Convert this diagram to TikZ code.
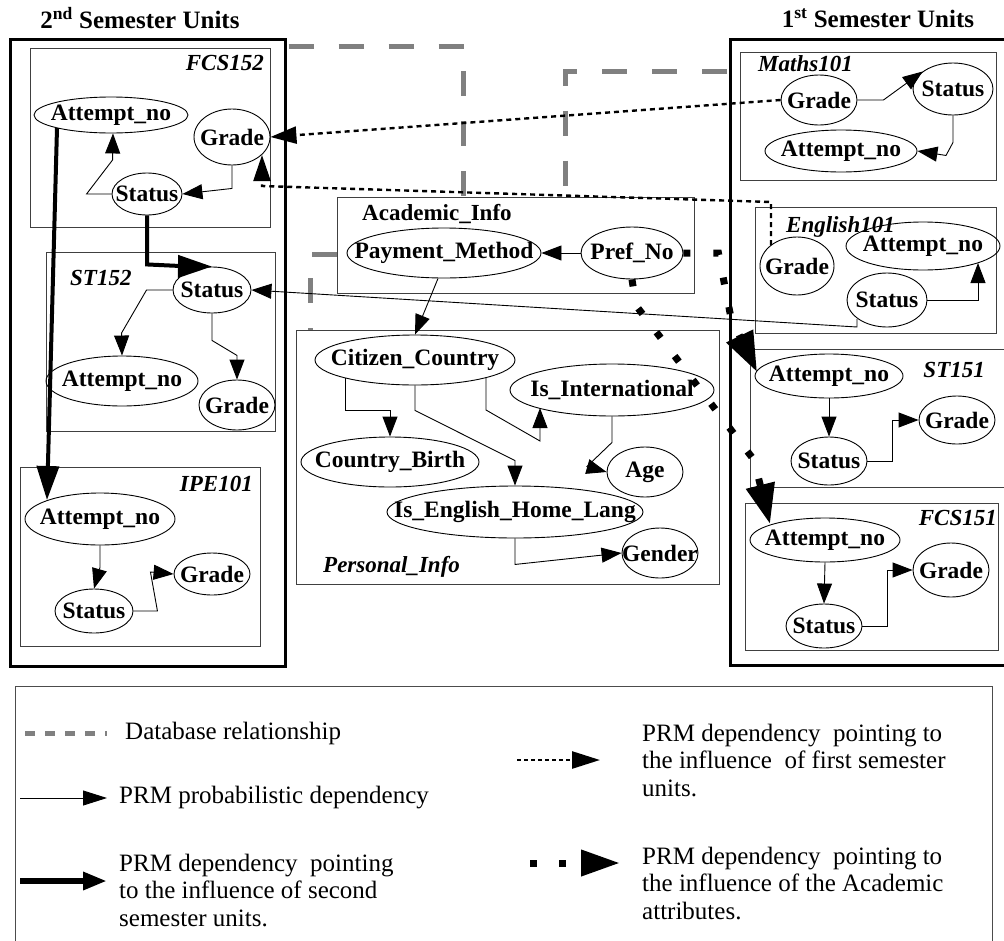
\documentclass[tikz,border=0pt]{standalone}
\usepackage{fontspec}
\setmainfont{Liberation Serif}
\usetikzlibrary{arrows.meta,shapes.geometric,calc,fit}

\begin{document}
\begin{tikzpicture}[x=1pt,y=-1pt,
  attr/.style={ellipse, draw, line width=0.9pt, inner sep=0pt,
    font=\bfseries\fontsize{23.5}{25}\selectfont,
    execute at begin node={\hbox to 0pt\bgroup\hss},
    execute at end node={\hss\egroup}},
  unitbox/.style={draw=black!75, line width=0.9pt, inner sep=0pt},
  semesterbox/.style={draw, line width=3pt, inner sep=0pt},
  unitname/.style={font=\bfseries\itshape\fontsize{23}{25}\selectfont, inner sep=0pt},
  classname/.style={font=\bfseries\fontsize{23}{25}\selectfont, inner sep=0pt},
  semtitle/.style={font=\bfseries\fontsize{25}{27}\selectfont, inner sep=0pt},
  dep/.style={line width=0.9pt, -{Triangle[length=20pt,width=15pt]}},
  seconddep/.style={line width=4pt, -{Triangle[length=34pt,width=22pt]}},
  firstdep/.style={line width=2.4pt, dash pattern=on 5pt off 4pt, -{Triangle[length=26pt,width=17pt]}},
  acaddep/.style={line width=7pt, dash pattern=on 7pt off 23pt, -{Triangle[length=40pt,width=28pt]}},
  dbrel/.style={draw=black!50, line width=5pt, dash pattern=on 25pt off 25pt},
  legtext/.style={font=\fontsize{25}{27.5}\selectfont, align=left, anchor=west, inner sep=0pt}
]
\useasboundingbox (0,0) rectangle (1004,940);

% ---------- titles ----------
\node[semtitle] (t2) at (140,18) {2\textsuperscript{nd} Semester Units};
\node[semtitle] (t1) at (878,18) {1\textsuperscript{st} Semester Units};

% ---------- semester frames ----------
\node[semesterbox, fit={(10,39) (285,666)}] (sem2) {};
\node[semesterbox, fit={(730,39) (1014,665)}] (sem1) {};

% ---------- FCS152 ----------
\node[unitbox, fit={(30,48) (270,227)}] (fcs152) {};
\node[unitname, anchor=east] (fcs152name) at (264,63) {FCS152};
\node[attr, minimum width=154pt, minimum height=36pt] (f2a) at (111,115) {Attempt\_no};
\node[attr, minimum width=76pt, minimum height=56pt] (f2g) at (232,137) {Grade};
\node[attr, minimum width=70pt, minimum height=42pt] (f2s) at (147,194) {Status};

% ---------- ST152 ----------
\node[unitbox, fit={(46,252) (275,431)}] (st152) {};
\node[unitname, anchor=west] (st152name) at (70,278) {ST152};
\node[attr, minimum width=78pt, minimum height=46pt] (s2s) at (212,290) {Status};
\node[attr, minimum width=152pt, minimum height=50pt] (s2a) at (122,381) {Attempt\_no};
\node[attr, minimum width=76pt, minimum height=50pt] (s2g) at (237,405) {Grade};

% ---------- IPE101 ----------
\node[unitbox, fit={(20,467) (260,646)}] (ipe101) {};
\node[unitname, anchor=east] (ipe101name) at (253,484) {IPE101};
\node[attr, minimum width=150pt, minimum height=52pt] (ia) at (100,519) {Attempt\_no};
\node[attr, minimum width=78pt, minimum height=44pt] (is) at (94,611) {Status};
\node[attr, minimum width=76pt, minimum height=42pt] (ig) at (212,574) {Grade};

% ---------- Academic_Info ----------
\node[unitbox, fit={(337,197) (694,293)}] (acad) {};
\node[classname, anchor=west] (acadname) at (362,214) {Academic\_Info};
\node[attr, minimum width=194pt, minimum height=50pt] (pm) at (444,253) {Payment\_Method};
\node[attr, minimum width=102pt, minimum height=52pt] (pn) at (632,253) {Pref\_No};

% ---------- Personal_Info ----------
\node[unitbox, fit={(296,330) (719,584)}] (pers) {};
\node[unitname, anchor=west] (persname) at (323,567) {Personal\_Info};
\node[attr, minimum width=200pt, minimum height=50pt] (cc) at (415,360) {Citizen\_Country};
\node[attr, minimum width=204pt, minimum height=52pt] (ii) at (612,390) {Is\_International};
\node[attr, minimum width=178pt, minimum height=50pt] (cb) at (390,462) {Country\_Birth};
\node[attr, minimum width=76pt, minimum height=50pt] (ag) at (645,472) {Age};
\node[attr, minimum width=256pt, minimum height=52pt] (ie) at (515,512) {Is\_English\_Home\_Lang};
\node[attr, minimum width=76pt, minimum height=50pt] (ge) at (660,553) {Gender};

% ---------- Maths101 ----------
\node[unitbox, fit={(740,52) (996,180)}] (maths) {};
\node[unitname, anchor=west] (mathsname) at (758,64) {Maths101};
\node[attr, minimum width=76pt, minimum height=50pt] (mg) at (819,100) {Grade};
\node[attr, minimum width=80pt, minimum height=52pt] (ms) at (953,89) {Status};
\node[attr, minimum width=152pt, minimum height=42pt] (ma) at (841,151) {Attempt\_no};

% ---------- English101 ----------
\node[unitbox, fit={(755,207) (996,333)}] (eng) {};
\node[unitname, anchor=west] (engname) at (786,227) {English101};
\node[attr, minimum width=74pt, minimum height=58pt] (eg) at (797,266) {Grade};
\node[attr, minimum width=154pt, minimum height=48pt] (ea) at (923,246) {Attempt\_no};
\node[attr, minimum width=80pt, minimum height=54pt] (es) at (887,300) {Status};

% ---------- ST151 ----------
\node[unitbox, fit={(750,349) (1014,487)}] (st151) {};
\node[unitname, anchor=east] (st151name) at (985,370) {ST151};
\node[attr, minimum width=148pt, minimum height=44pt] (ta) at (829,376) {Attempt\_no};
\node[attr, minimum width=76pt, minimum height=48pt] (ts) at (829,461) {Status};
\node[attr, minimum width=76pt, minimum height=48pt] (tg) at (957,420) {Grade};

% ---------- FCS151 ----------
\node[unitbox, fit={(745,503) (998,650)}] (fcs151) {};
\node[unitname, anchor=east] (fcs151name) at (997,518) {FCS151};
\node[attr, minimum width=150pt, minimum height=44pt] (fa) at (825,540) {Attempt\_no};
\node[attr, minimum width=76pt, minimum height=44pt] (fs) at (824,626) {Status};
\node[attr, minimum width=76pt, minimum height=54pt] (fg) at (951,570) {Grade};

% ---------- database relationships ----------
\draw[dbrel] ($(sem2.north east)+(2,9)$) -| ($(acad.north west)+(127,0)$);
\draw[dbrel] ($(sem1.north west)+(-2,34)$) -| ($(acad.north west)+(229,0)$);
\draw[dbrel] ($(acad.south west)+(0,-39)$) -| ($(pers.north west)+(15,0)$);

% ---------- probabilistic dependencies ----------
\draw[dep] (f2g.south) -- ++(0,23) -- (f2s.east);
\draw[dep] (f2s.west) -- ++(-25,0) -- ++(26,-34) -- ($(f2a.south)+(2,0)$);
\draw[dep] (s2s.west) -- ++(-26,0) -- ++(-25,43) -- (s2a.north);
\draw[dep] (s2s.south) -- ++(0,27) -- ++(25,15) -- (s2g.north);
\draw[dep] (ia.south) -- ++(0,22) -- (is.north);
\draw[dep] (is.east) -- ++(24,0) -- ++(-7,-39) -- (ig.west);

\draw[dep] (pn.west) -- (pm.east);
\draw[dep] ($(pm.south)+(-6,0)$) -- (cc.north);
\draw[dep] ($(cc.center)+(-70,18)$) -- ++(0,32) -- ++(45,0) -- (cb.north);
\draw[dep] (cc.south) -- ++(0,25) -- ($(ie.north)+(0,-25)$) -- (ie.north);
\draw[dep] ($(cc.center)+(71,17)$) -- ++(0,33) -- ($(ii.center)+(-72,51)$) -- ($(ii.center)+(-72,18)$);
\draw[dep] (ii.south) -- ++(0,26) -- ++(-25,24) -- (ag.west);
\draw[dep] (ie.south) -- ++(0,26) -- (ge.west);

\draw[dep] (mg.east) -- ++(26,0) -- (ms.150);
\draw[dep] (ms.south) -- ++(0,27) -- ++(-7,13) -- (ma.east);
\draw[dep] (es.east) -| ($(ea.center)+(55,17)$);
\draw[dep] ($(es.center)+(-30,19)$) -- ++(0,8) -- (s2s.east);
\draw[dep] (ta.south) -- (ts.north);
\draw[dep] (ts.east) -- ++(25,0) |- (tg.west);
\draw[dep] (fa.south) -- (fs.north);
\draw[dep] (fs.east) -- ++(25,0) |- (fg.west);

% ---------- influence of second semester units ----------
\draw[seconddep] (f2s.south) -- ++(0,49) -- ++(43,2) -- (s2s.north);
\draw[seconddep] ($(f2a.center)+(-54,13)$) -- ($(ia.center)+(-53,-19)$);

% ---------- influence of first semester units ----------
\draw[firstdep] (mg.west) -- (f2g.east);
\draw[firstdep] ($(eg.center)+(-26,-21)$) -- ++(0,-43) -- ($(f2g.center)+(30,49)$) -- ($(f2g.center)+(30,18)$);

% ---------- influence of the academic attributes ----------
\draw[acaddep] (pn.east) -- ++(35,0) -- (731,318) -- ($(ta.center)+(-72,-4)$);
\draw[acaddep] (pn.south) -- ++(4,26) -- (754,460) -- ($(fa.center)+(-55,-16)$);

% ---------- legend ----------
\node[draw=black!70, line width=1pt, inner sep=0pt, fit={(15,686) (992,960)}] (legend) {};

\coordinate (la1) at (25,733);  \coordinate (lb1) at (107,733);
\draw[draw=black!50, line width=5pt, dash pattern=on 10pt off 10pt] (la1) -- (lb1);
\node[legtext] (lt1) at (125,733) {Database relationship};

\coordinate (la2) at (20,798);  \coordinate (lb2) at (107,798);
\draw[line width=0.9pt, -{Triangle[length=24pt,width=15pt]}] (la2) -- (lb2);
\node[legtext] (lt2) at (119,798) {PRM probabilistic dependency};

\coordinate (la3) at (20,881);  \coordinate (lb3) at (107,881);
\draw[line width=6pt, -{Triangle[length=24pt,width=17pt]}] (la3) -- (lb3);
\node[legtext] (lt3) at (119,890) {PRM dependency\ \ pointing\\to the influence of second\\semester units.};

\coordinate (la4) at (517,760);  \coordinate (lb4) at (600,760);
\draw[line width=2.6pt, dash pattern=on 4pt off 3pt, -{Triangle[length=28pt,width=17pt]}] (la4) -- (lb4);
\node[legtext] (lt4) at (642,760) {PRM dependency\ \ pointing to\\the influence\ \ of first semester\\units.};

\coordinate (la5) at (530,863);  \coordinate (lb5) at (620,863);
\draw[line width=7pt, dash pattern=on 7pt off 22pt, -{Triangle[length=39pt,width=25pt]}] (la5) -- (lb5);
\node[legtext] (lt5) at (642,883) {PRM dependency\ \ pointing to\\the influence of the Academic\\attributes.};

\end{tikzpicture}
\end{document}
